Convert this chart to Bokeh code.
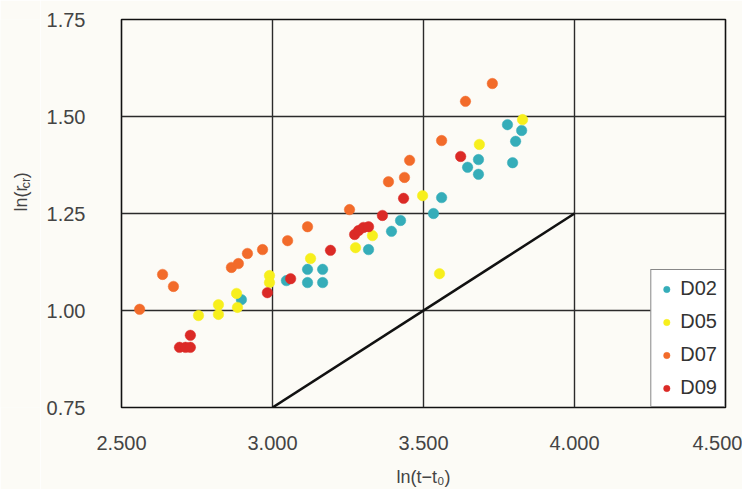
import math
from bokeh.plotting import figure
from bokeh.layouts import row
from bokeh.models import Range1d, FixedTicker, PrintfTickFormatter, Label, Legend, LegendItem
from bokeh.embed import file_html
from bokeh.resources import INLINE

# ---- data ----
d02_x = [2.897, 3.046, 3.116, 3.116, 3.166, 3.166, 3.318, 3.394, 3.424, 3.533,
         3.560, 3.646, 3.682, 3.682, 3.778, 3.825, 3.805, 3.795]
d02_y = [1.028, 1.077, 1.106, 1.072, 1.106, 1.072, 1.157, 1.204, 1.232, 1.250,
         1.291, 1.369, 1.389, 1.351, 1.479, 1.464, 1.436, 1.381]

d05_x = [2.755, 2.821, 2.821, 2.881, 2.884, 2.990, 2.990, 3.126, 3.275, 3.331,
         3.497, 3.553, 3.685, 3.828]
d05_y = [0.987, 1.015, 0.990, 1.044, 1.008, 1.090, 1.072, 1.134, 1.162, 1.193,
         1.296, 1.095, 1.428, 1.492]

d07_x = [2.560, 2.636, 2.672, 2.864, 2.887, 2.917, 2.967, 3.050, 3.116, 3.255,
         3.384, 3.437, 3.454, 3.560, 3.639, 3.728]
d07_y = [1.003, 1.093, 1.062, 1.111, 1.121, 1.147, 1.157, 1.180, 1.216, 1.260,
         1.332, 1.343, 1.387, 1.438, 1.539, 1.585]

d09_x = [2.692, 2.712, 2.728, 2.728, 2.983, 3.060, 3.192, 3.272, 3.285, 3.301,
         3.318, 3.364, 3.434, 3.623]
d09_y = [0.905, 0.905, 0.905, 0.936, 1.046, 1.082, 1.155, 1.196, 1.206, 1.214,
         1.216, 1.245, 1.289, 1.397]

series_names = ["D02", "D05", "D07", "D09"]
series_colors = ["#35adb9", "#f7ef1c", "#f26b2a", "#db2a26"]

ref_line_x = [3.0, 4.0]
ref_line_y = [0.75, 1.25]

x_ticks = [2.5, 3.0, 3.5, 4.0, 4.5]
y_ticks = [0.75, 1.00, 1.25, 1.50, 1.75]

BG = "#fcfbf6"
TXT = "#444444"
FONT = "Liberation Sans"
H = 489
LEFT_W = 40

# ---- narrow strip holding the rotated y-axis title ln(r_cr) ----
t = figure(width=LEFT_W, height=H, output_backend="svg", toolbar_location=None,
           x_range=Range1d(0, LEFT_W), y_range=Range1d(H, 0),
           min_border_left=0, min_border_right=0, min_border_top=0, min_border_bottom=0)
t.axis.visible = False
t.grid.visible = False
t.outline_line_color = None
t.background_fill_color = BG
t.border_fill_color = BG
t.add_layout(Label(x=20, y=242, text="ln(r", angle=math.pi / 2,
                   text_font=FONT, text_font_size="18px", text_color=TXT,
                   text_align="left", text_baseline="middle"))
t.add_layout(Label(x=25, y=213, text="cr", angle=math.pi / 2,
                   text_font=FONT, text_font_size="13px", text_color=TXT,
                   text_align="left", text_baseline="middle"))
t.add_layout(Label(x=20, y=200, text=")", angle=math.pi / 2,
                   text_font=FONT, text_font_size="18px", text_color=TXT,
                   text_align="left", text_baseline="middle"))

# ---- main chart ----
p = figure(width=742 - LEFT_W, height=H, output_backend="svg", toolbar_location=None,
           x_range=Range1d(2.5, 4.5), y_range=Range1d(0.75, 1.75),
           min_border_left=121 - LEFT_W, min_border_right=17, min_border_top=19, min_border_bottom=82)
p.background_fill_color = BG
p.border_fill_color = BG
p.outline_line_color = "#111111"
p.outline_line_width = 1.6

for ax in (p.xaxis, p.yaxis):
    ax.axis_line_color = None
    ax.major_tick_line_color = None
    ax.minor_tick_line_color = None
    ax.major_label_text_font = FONT
    ax.major_label_text_color = TXT
    ax.major_label_text_font_size = "20px"

p.xaxis.ticker = FixedTicker(ticks=x_ticks)
p.yaxis.ticker = FixedTicker(ticks=y_ticks)
p.xaxis.formatter = PrintfTickFormatter(format="%.3f")
p.yaxis.formatter = PrintfTickFormatter(format="%.2f")
p.xaxis.major_label_standoff = 22
p.yaxis.major_label_standoff = 30

p.xaxis.axis_label = "ln(t\u2212t\u2080)"
p.xaxis.axis_label_text_font = FONT
p.xaxis.axis_label_text_font_style = "normal"
p.xaxis.axis_label_text_font_size = "18px"
p.xaxis.axis_label_text_color = TXT
p.xaxis.axis_label_standoff = 14

for g in (p.xgrid, p.ygrid):
    g.grid_line_color = "#2b2b2b"
    g.grid_line_width = 1.4
p.xgrid.ticker = FixedTicker(ticks=x_ticks)
p.ygrid.ticker = FixedTicker(ticks=y_ticks)

p.line(ref_line_x, ref_line_y, line_color="#111111", line_width=2.6)

xs = [d02_x, d05_x, d07_x, d09_x]
ys = [d02_y, d05_y, d07_y, d09_y]
items = []
for name, col, sx, sy in zip(series_names, series_colors, xs, ys):
    r = p.scatter(sx, sy, size=10.5, fill_color=col, line_color=col, line_width=0.5)
    items.append(LegendItem(label=name, renderers=[r]))

legend = Legend(items=items, location="bottom_right")
legend.margin = 0
legend.padding = 7
legend.spacing = 10
legend.glyph_width = 16
legend.glyph_height = 20
legend.label_height = 20
legend.label_standoff = 6
legend.label_text_font = FONT
legend.label_text_font_size = "20px"
legend.label_text_color = "#333333"
legend.border_line_color = "#111111"
legend.border_line_width = 1.6
legend.background_fill_color = "#ffffff"
legend.background_fill_alpha = 1.0
p.add_layout(legend, "center")

layout = row(t, p, spacing=0)
open("out.html", "w").write(file_html(layout, INLINE))
